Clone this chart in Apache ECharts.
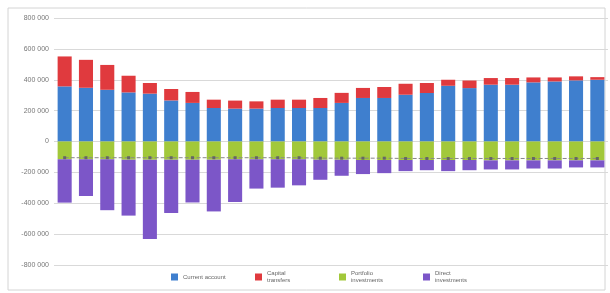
<!DOCTYPE html>
<html lang="en">
<head>
    <meta charset="utf-8">
    <title>Chart</title>
    <script src="https://cdn.jsdelivr.net/npm/echarts@6.0.0/dist/echarts.min.js"></script>
    <style>
        html, body { margin: 0; padding: 0; background: #fff; }
    </style>
</head>
<body>
<div id="chart" style="width: 610px; height: 293px;"></div>
<script>
    // 26 periods, no category labels shown
    var periods = [];
    for (var i = 1; i <= 26; i++) periods.push(String(i));

    var seriesNames = ['Current account', 'Capital\ntransfers', 'Portfolio\ninvestments', 'Direct\ninvestments'];

    var blueVals = [357000, 348000, 335000, 318000, 310000, 266000, 250000, 217000, 213000, 213000, 217000, 217000, 217000,
        250000, 282000, 282000, 303000, 314000, 361000, 346000, 368000, 368000, 383000, 389000, 396000, 400000];
    var redVals = [194000, 181000, 161000, 108000, 69000, 74000, 71000, 54000, 52000, 47000, 54000, 54000, 65000,
        65000, 65000, 71000, 71000, 65000, 39000, 49000, 43000, 43000, 32000, 26000, 26000, 17000];
    var greenVals = [-115000, -115000, -115000, -118000, -118000, -118000, -118000, -118000, -115000, -115000, -115000, -115000, -118000,
        -118000, -120000, -120000, -120000, -120000, -120000, -120000, -122000, -122000, -122000, -122000, -122000, -122000];
    var purpleVals = [-281000, -238000, -330000, -362000, -513000, -345000, -277000, -335000, -277000, -190000, -184000, -169000, -130000,
        -104000, -91000, -85000, -72000, -66000, -72000, -66000, -59000, -59000, -53000, -53000, -46000, -46000];
    var netVals = [-105000, -105000, -105000, -105000, -105000, -105000, -105000, -105000, -105000, -105000, -105000, -105000, -108000,
        -108000, -108000, -108000, -110000, -110000, -110000, -110000, -110000, -110000, -110000, -110000, -110000, -110000];

    var colors = ['#3f7fce', '#e03a3e', '#a2c83a', '#7c56c8'];

    var chart = echarts.init(document.getElementById('chart'));

    function barSeries(idx, data) {
        return {
            name: seriesNames[idx],
            type: 'bar',
            stack: 'total',
            data: data,
            barCategoryGap: '34%',
            itemStyle: {color: colors[idx]}
        };
    }

    var option = {
        animation: false,
        graphic: [{
            type: 'rect',
            shape: {x: 8, y: 8, width: 597, height: 282},
            style: {fill: 'none', stroke: '#d4d4d4', lineWidth: 1},
            silent: true
        }],
        grid: {left: 54, right: 2, top: 18, bottom: 28},
        legend: {
            bottom: 4,
            left: 166,
            itemWidth: 7,
            itemHeight: 7,
            itemGap: 10,
            icon: 'rect',
            data: seriesNames,
            textStyle: {fontSize: 6, color: '#666', lineHeight: 7, width: 62}
        },
        xAxis: {
            type: 'category',
            data: periods,
            axisLine: {show: false},
            axisTick: {show: false},
            axisLabel: {show: false}
        },
        yAxis: {
            type: 'value',
            min: -800000,
            max: 800000,
            interval: 200000,
            axisLine: {show: false},
            axisTick: {show: false},
            axisLabel: {
                fontSize: 7,
                color: '#777',
                margin: 5,
                formatter: function (v) {
                    if (v === 0) return '0';
                    var s = String(Math.abs(v)).replace(/\B(?=(\d{3})+(?!\d))/g, ' ');
                    return (v < 0 ? '-' : '') + s;
                }
            },
            splitLine: {lineStyle: {color: '#d9d9d9'}}
        },
        series: [
            barSeries(0, blueVals),
            barSeries(1, redVals),
            barSeries(2, greenVals),
            barSeries(3, purpleVals),
            {
                name: 'net',
                type: 'line',
                data: netVals,
                symbol: 'rect',
                symbolSize: 3,
                lineStyle: {color: '#888', width: 1, type: 'dashed'},
                itemStyle: {color: '#666'},
                z: 5
            }
        ]
    };
    chart.setOption(option);
</script>
</body>
</html>
